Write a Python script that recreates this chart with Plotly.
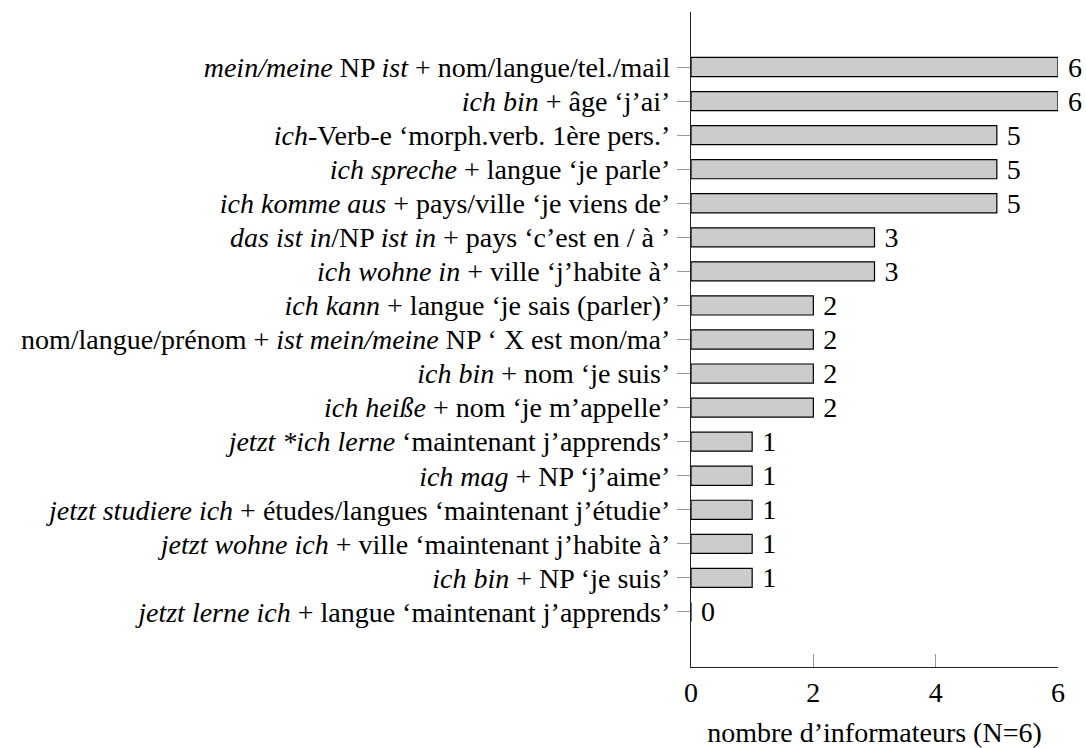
import plotly.graph_objects as go

# constructions (plain names) and their labels with italic German parts
constructions = [
    "mein/meine NP ist + nom/langue/tel./mail",
    "ich bin + âge 'j'ai'",
    "ich-Verb-e 'morph.verb. 1ère pers.'",
    "ich spreche + langue 'je parle'",
    "ich komme aus + pays/ville 'je viens de'",
    "das ist in/NP ist in + pays 'c'est en / à'",
    "ich wohne in + ville 'j'habite à'",
    "ich kann + langue 'je sais (parler)'",
    "nom/langue/prénom + ist mein/meine NP 'X est mon/ma'",
    "ich bin + nom 'je suis'",
    "ich heiße + nom 'je m'appelle'",
    "jetzt *ich lerne 'maintenant j'apprends'",
    "ich mag + NP 'j'aime'",
    "jetzt studiere ich + études/langues 'maintenant j'étudie'",
    "jetzt wohne ich + ville 'maintenant j'habite à'",
    "ich bin + NP 'je suis'",
    "jetzt lerne ich + langue 'maintenant j'apprends'",
]
tick_labels = [
    "<i>mein/meine</i> NP <i>ist</i> + nom/langue/tel./mail",
    "<i>ich bin</i> + âge ‘j’ai’",
    "<i>ich</i>-Verb-e ‘morph.verb. 1ère pers.’",
    "<i>ich spreche</i> + langue ‘je parle’",
    "<i>ich komme aus</i> + pays/ville ‘je viens de’",
    "<i>das ist in</i>/NP <i>ist in</i> + pays ‘c’est en / à ’",
    "<i>ich wohne in</i> + ville ‘j’habite à’",
    "<i>ich kann</i> + langue ‘je sais (parler)’",
    "nom/langue/prénom + <i>ist mein/meine</i> NP ‘ X est mon/ma’",
    "<i>ich bin</i> + nom ‘je suis’",
    "<i>ich heiße</i> + nom ‘je m’appelle’",
    "<i>jetzt *ich lerne</i> ‘maintenant j’apprends’",
    "<i>ich mag</i> + NP ‘j’aime’",
    "<i>jetzt studiere ich</i> + études/langues ‘maintenant j’étudie’",
    "<i>jetzt wohne ich</i> + ville ‘maintenant j’habite à’",
    "<i>ich bin</i> + NP ‘je suis’",
    "<i>jetzt lerne ich</i> + langue ‘maintenant j’apprends’",
]
informants = [6, 6, 5, 5, 5, 3, 3, 2, 2, 2, 2, 1, 1, 1, 1, 1, 0]
x_ticks = [0, 2, 4, 6]

FONT = "Liberation Serif"
SIZE = 28
n = len(constructions)

fig = go.Figure(
    go.Bar(
        x=informants,
        y=constructions,
        orientation="h",
        width=0.56,
        marker=dict(color="#cccccc", line=dict(color="#000000", width=1.2)),
        text=[f" {v}" for v in informants],
        textposition="outside",
        cliponaxis=False,
        constraintext="none",
        textfont=dict(family=FONT, size=SIZE, color="black"),
    )
)

fig.update_xaxes(
    range=[0, 6],
    tickvals=x_ticks,
    ticks="inside",
    ticklen=13,
    tickcolor="#999999",
    showline=True,
    linecolor="#222222",
    linewidth=1.2,
    showgrid=False,
    zeroline=False,
    automargin=False,
    tickfont=dict(family=FONT, size=SIZE, color="black"),
    title=dict(text="nombre d’informateurs (N=6)", standoff=21,
               font=dict(family=FONT, size=SIZE, color="black")),
)
fig.update_yaxes(
    type="category",
    categoryorder="array",
    categoryarray=constructions,
    tickvals=constructions,
    ticktext=tick_labels,
    range=[n - 1 + 1.615, -1.615],
    ticks="outside",
    ticklen=13,
    tickcolor="#999999",
    showline=True,
    linecolor="#222222",
    linewidth=1.2,
    showgrid=False,
    zeroline=False,
    automargin=False,
    ticklabelstandoff=1,
    tickfont=dict(family=FONT, size=SIZE, color="black"),
)

fig.update_layout(
    width=1086,
    height=748,
    margin=dict(l=691, r=28, t=12, b=81),
    plot_bgcolor="white",
    paper_bgcolor="white",
    showlegend=False,
    font=dict(family=FONT, size=SIZE, color="black"),
)

fig.write_html(
    "out.html",
    config={"displayModeBar": False},
    post_script="document.body.style.margin='0';",
)
